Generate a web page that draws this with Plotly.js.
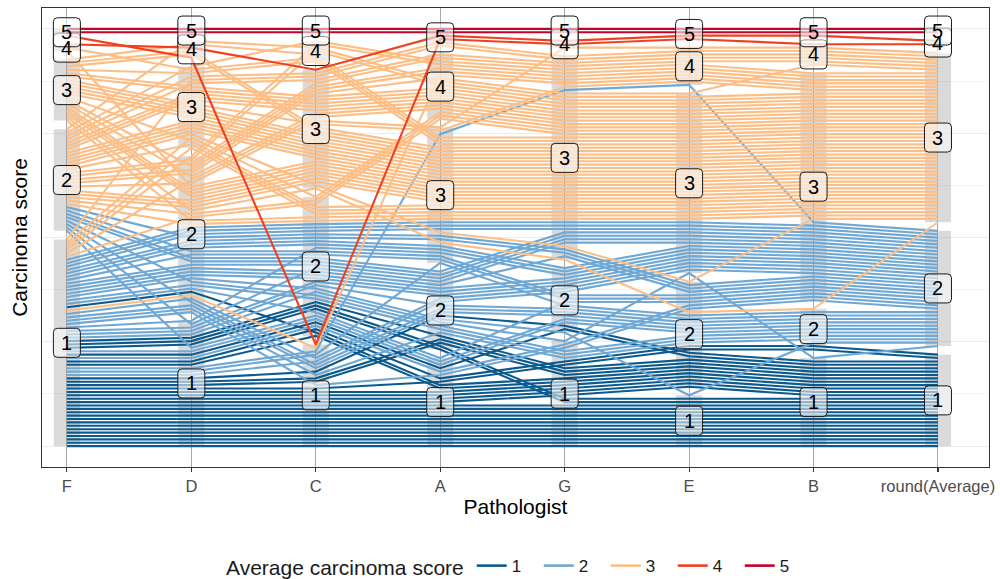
<!DOCTYPE html>
<html>
<head>
<meta charset="utf-8">
<script src="https://cdn.plot.ly/plotly-3.0.1.min.js"></script>
<style>
  html, body { margin: 0; padding: 0; background: #ffffff; }
  #chart { width: 1000px; height: 579px; }
</style>
</head>
<body>
<div id="chart"></div>
<script>
// Carcinoma scores (1-5) given by seven pathologists to the same 118 slides.
// Entry i of every array belongs to slide i.
const scoreF = [5,5,5,4,4,4,3,3,3,3, 3,3,3,3,3,3,3,3,3,3, 3,3,3,3,3,2,2,2,2,2, 2,2,2,2,2,2,2,2,2,2,
                2,2,2,2,2,2,2,2,1,1, 1,1,1,1,1,1,2,2,2,2, 2,2,2,2,1,1,1,1,1,1, 1,1,1,1,1,1,1,1,1,1,
                1,1,1,1,1,1,1,1,1,1, 1,1,1,1,1,1,1,1,1,1, 1,1,1,1,1,1,1,1,1,1, 1,1,1,1,1,1,1,1];
const scoreD = [5,5,4,4,3,2,4,4,4,3, 3,3,3,3,3,2,2,2,2,2, 3,2,3,2,3,4,3,3,3,3, 3,3,3,3,2,2,2,2,2,3,
                2,2,3,2,2,3,2,3,3,2, 2,2,3,2,3,1,2,2,2,2, 1,2,2,1,2,2,2,2,2,2, 2,2,2,2,2,2,1,1,1,2,
                2,2,1,2,1,1,2,1,2,1, 2,1,1,1,1,1,1,1,1,1, 1,1,1,1,1,1,1,1,1,1, 1,1,1,1,1,1,1,1];
const scoreC = [5,5,1,3,4,3,4,3,3,4, 3,3,3,3,2,3,3,3,2,3, 3,3,3,3,3,4,4,3,3,3, 3,3,3,3,3,3,3,2,3,2,
                3,4,3,3,2,3,3,3,3,4, 3,2,2,1,2,1,2,2,2,2, 2,1,2,2,2,2,2,2,2,2, 2,2,2,2,1,2,2,2,2,1,
                2,2,2,2,1,2,1,1,1,2, 2,2,2,2,2,2,2,1,1,1, 1,1,1,1,1,1,1,1,1,1, 1,1,1,1,1,1,1,1];
const scoreA = [5,5,5,5,3,3,3,3,3,3, 4,3,3,3,3,4,4,3,3,3, 3,3,4,3,3,4,4,5,4,4, 4,3,3,3,4,4,3,3,3,3,
                3,4,3,4,4,3,3,4,5,4, 4,4,4,4,3,3,3,2,2,3, 2,2,2,1,3,3,3,3,3,3, 2,2,2,3,2,2,2,3,2,2,
                1,2,1,2,2,1,2,3,1,2, 1,2,2,1,1,2,1,2,2,2, 1,1,1,1,1,1,1,1,1,1, 1,1,1,1,1,1,1,1];
const scoreG = [5,5,4,4,3,3,3,3,3,3, 3,3,3,3,3,3,3,3,3,3, 3,3,3,3,3,3,3,3,3,3, 3,3,3,3,3,3,3,3,3,3,
                3,3,3,3,3,3,4,3,3,3, 3,3,3,3,3,3,3,3,3,2, 3,2,1,2,3,3,3,2,3,2, 3,2,3,2,2,2,2,2,2,2,
                2,1,2,2,2,1,1,2,1,1, 1,1,1,2,1,1,1,1,2,1, 1,1,1,1,1,1,1,1,1,1, 1,1,1,1,1,1,1,1];
const scoreE = [5,5,5,5,3,3,3,3,3,3, 3,4,3,3,3,3,4,3,3,2, 3,3,3,3,3,3,4,4,4,3, 3,3,3,3,4,3,3,3,3,3,
                3,3,2,4,3,3,4,3,4,4, 3,3,3,4,3,4,2,3,3,2, 3,2,2,2,3,3,2,3,3,3, 3,3,2,2,3,3,2,3,3,2,
                2,2,2,1,3,2,2,2,2,3, 2,2,1,2,2,1,2,2,2,2, 2,2,2,2,2,1,1,1,1,1, 1,1,1,1,1,1,1,1];
const scoreB = [5,5,4,5,3,3,3,3,3,3, 3,3,3,3,3,3,3,3,3,2, 3,3,3,3,3,3,3,4,4,3, 3,3,3,3,3,4,3,3,3,3,
                3,3,3,4,3,3,4,3,4,3, 3,3,3,3,3,3,3,3,3,3, 3,2,2,2,3,3,3,3,3,3, 3,3,3,3,3,3,2,3,3,2,
                3,2,2,2,3,3,2,2,3,1, 1,1,1,1,2,1,1,1,1,1, 2,1,1,1,1,1,1,1,1,1, 1,1,1,1,1,1,1,1];

const axisLabels = ['F', 'D', 'C', 'A', 'G', 'E', 'B', 'round(Average)'];
const scoreLevels = [1, 2, 3, 4, 5];
const levelColors = ['#0b5a8e', '#6fa8d4', '#fdbe85', '#f0401f', '#c4002b'];

const FONT = 'Liberation Sans, Arial, sans-serif';
const ratings = [scoreF, scoreD, scoreC, scoreA, scoreG, scoreE, scoreB];
const nSlides = scoreF.length;

// rounded mean rating of each slide (a sum of 7 integers never ends in .5)
const average = scoreF.map((_, i) =>
  Math.round(ratings.reduce((s, col) => s + col[i], 0) / ratings.length));
const columns = ratings.concat([average]);
const nAxes = columns.length;

// Spread slides along every axis: levels stacked bottom-up with a small gap;
// inside a level, slides are ordered by the axes to the right, then to the left.
const SPACE = 0.05;
const positions = columns.map((col, j) => {
  const tieAxes = [];
  for (let k = j + 1; k < nAxes; k++) tieAxes.push(k);
  for (let k = j - 1; k >= 0; k--) tieAxes.push(k);
  const order = [...Array(nSlides).keys()];
  order.sort((a, b) => {
    if (col[a] !== col[b]) return col[a] - col[b];
    for (const k of tieAxes) {
      if (columns[k][a] !== columns[k][b]) return columns[k][a] - columns[k][b];
    }
    return a - b;
  });
  const present = scoreLevels.filter(l => col.includes(l));
  const pos = new Array(nSlides);
  order.forEach((s, r) => {
    const li = present.indexOf(col[s]);
    pos[s] = r / (nSlides - 1) * (1 - SPACE) + li * SPACE / (present.length - 1);
  });
  return pos;
});

// one polyline per slide, grouped by its average score
const traces = scoreLevels.map((lev, k) => {
  const xs = [], ys = [];
  for (let i = 0; i < nSlides; i++) {
    if (average[i] !== lev) continue;
    columns.forEach((_, j) => { xs.push(j); ys.push(positions[j][i]); });
    xs.push(null); ys.push(null);
  }
  return {
    type: 'scatter', mode: 'lines', x: xs, y: ys,
    line: { color: levelColors[k], width: 2.1 },
    hoverinfo: 'skip', showlegend: false
  };
});
scoreLevels.forEach((lev, k) => {
  traces.push({
    type: 'scatter', mode: 'lines', x: [null], y: [null], name: String(lev),
    line: { color: levelColors[k], width: 2.6 }, showlegend: true, hoverinfo: 'skip'
  });
});

// grey level boxes (behind the lines) and rounded level labels on every axis
const labelFrame = 'M -13.5 -10.5 Q -13.5 -14.5 -9.5 -14.5 L 9.5 -14.5 Q 13.5 -14.5 13.5 -10.5 ' +
                   'L 13.5 10.5 Q 13.5 14.5 9.5 14.5 L -9.5 14.5 Q -13.5 14.5 -13.5 10.5 Z';
const boxShapes = [], frameShapes = [], labelNotes = [];
columns.forEach((col, j) => {
  scoreLevels.filter(l => col.includes(l)).forEach(lev => {
    const ys = positions[j].filter((_, i) => col[i] === lev);
    const lo = Math.min(...ys), hi = Math.max(...ys), mid = (lo + hi) / 2;
    boxShapes.push({
      type: 'rect', xref: 'x', yref: 'y', x0: j - 0.105, x1: j + 0.105, y0: lo, y1: hi,
      fillcolor: 'rgba(150,150,150,0.35)', line: { width: 0 }, layer: 'between'
    });
    frameShapes.push({
      type: 'path', xref: 'x', yref: 'y', xsizemode: 'pixel', ysizemode: 'pixel',
      xanchor: j, yanchor: mid, path: labelFrame,
      fillcolor: 'rgba(255,255,255,0.55)', line: { color: '#1a1a1a', width: 1 }, layer: 'above'
    });
    labelNotes.push({
      x: j, y: mid, xref: 'x', yref: 'y', text: String(lev), showarrow: false,
      xanchor: 'center', yanchor: 'middle', font: { family: FONT, size: 20, color: '#000000' }
    });
  });
});

const layout = {
  width: 1000, height: 579,
  margin: { l: 42, r: 11, t: 8, b: 112, autoexpand: false },
  paper_bgcolor: '#ffffff', plot_bgcolor: '#ffffff',
  font: { family: FONT, color: '#000000' },
  xaxis: {
    range: [-0.2, 7.41], tickmode: 'array',
    tickvals: axisLabels.map((_, j) => j), ticktext: axisLabels,
    showgrid: true, gridcolor: '#a8a8a8', gridwidth: 1, zeroline: false,
    showline: true, mirror: true, linecolor: '#333333', linewidth: 1.1,
    ticks: 'outside', ticklen: 4, tickwidth: 1.1, tickcolor: '#333333',
    tickfont: { family: FONT, size: 16.5, color: '#4d4d4d' },
    title: { text: 'Pathologist', font: { family: FONT, size: 21, color: '#000000' }, standoff: 3 },
    automargin: false
  },
  yaxis: {
    range: [-0.05, 1.05], tick0: 0, dtick: 0.25, showticklabels: false, ticks: '',
    showgrid: true, gridcolor: '#ebebeb', gridwidth: 1.1, zeroline: false,
    minor: { dtick: 0.125, showgrid: true, gridcolor: '#ebebeb', gridwidth: 0.6 },
    showline: true, mirror: true, linecolor: '#333333', linewidth: 1.1,
    title: { text: 'Carcinoma score', font: { family: FONT, size: 21, color: '#000000' }, standoff: 7 },
    automargin: false
  },
  legend: {
    orientation: 'h', x: 0.5, xanchor: 'center', y: -0.218, yanchor: 'middle',
    title: { text: 'Average carcinoma score', side: 'left', font: { family: FONT, size: 21 } },
    font: { family: FONT, size: 17, color: '#1a1a1a' },
    entrywidth: 22, entrywidthmode: 'pixels', itemclick: false
  },
  shapes: boxShapes.concat(frameShapes),
  annotations: labelNotes,
  showlegend: true
};

Plotly.newPlot('chart', traces, layout, { displayModeBar: false, staticPlot: true });
</script>
</body>
</html>
